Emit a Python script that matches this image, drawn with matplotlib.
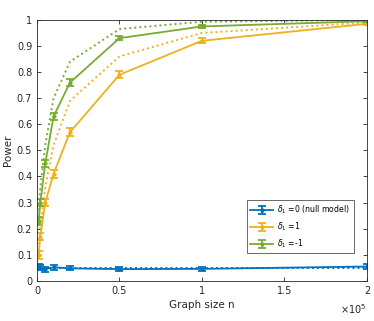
import matplotlib
matplotlib.use("Agg")
import matplotlib.pyplot as plt
import numpy as np

n = [1000, 2000, 5000, 10000, 20000, 50000, 100000, 200000]

null_power = [0.055, 0.05, 0.045, 0.052, 0.048, 0.045, 0.046, 0.055]
null_err = [0.01, 0.01, 0.01, 0.01, 0.008, 0.008, 0.008, 0.01]
null_theory = [0.05, 0.05, 0.05, 0.05, 0.05, 0.05, 0.05, 0.05]

pos_power = [0.10, 0.17, 0.30, 0.41, 0.57, 0.79, 0.92, 0.985]
pos_err = [0.015, 0.015, 0.015, 0.015, 0.015, 0.013, 0.01, 0.005]
pos_theory = [0.14, 0.21, 0.36, 0.52, 0.69, 0.86, 0.95, 0.99]

neg_power = [0.23, 0.30, 0.45, 0.63, 0.76, 0.93, 0.975, 0.995]
neg_err = [0.015, 0.015, 0.015, 0.015, 0.013, 0.008, 0.005, 0.003]
neg_theory = [0.27, 0.36, 0.52, 0.70, 0.84, 0.965, 0.993, 1.0]

labels = [r"$\delta_1$ =0 (null model)", r"$\delta_1$ =1", r"$\delta_1$ =-1"]
colors = ["#0072BD", "#EDB120", "#77AC30"]

fig = plt.figure(figsize=(3.74, 3.21), dpi=100)
ax = fig.add_axes([0.099, 0.125, 0.882, 0.813])

series = [(null_power, null_err, null_theory),
          (pos_power, pos_err, pos_theory),
          (neg_power, neg_err, neg_theory)]
handles = []
for (p, e, t), c, lab in zip(series, colors, labels):
    ax.plot(n, t, linestyle=(0, (1, 1.6)), color=c, lw=1.4)
    h = ax.errorbar(n, p, yerr=e, color=c, lw=1.3, marker='.', ms=4,
                    capsize=3, capthick=1.3, elinewidth=1.3, label=lab)
    handles.append(h)

ax.set_xlim(0, 200000)
ax.set_ylim(0, 1)
ax.set_xticks([0, 50000, 100000, 150000, 200000])
ax.set_xticklabels(["0", "0.5", "1", "1.5", "2"])
ax.set_yticks(np.arange(0, 1.01, 0.1))
ax.set_yticklabels(["0", "0.1", "0.2", "0.3", "0.4", "0.5", "0.6", "0.7", "0.8", "0.9", "1"])
ax.tick_params(direction='in', length=3, labelsize=7, colors='#262626', top=True, right=True,
               labelcolor='#262626', width=0.6)
for s in ax.spines.values():
    s.set_color('#262626')
    s.set_linewidth(0.6)
ax.set_xlabel("Graph size n", fontsize=7.5, color='#262626', labelpad=3)
ax.set_ylabel("Power", fontsize=7.5, color='#262626', labelpad=3)
ax.text(1.0, -0.08, r"$\times10^5$", transform=ax.transAxes, ha='right', va='top',
        fontsize=7, color='#262626')

leg = ax.legend(handles=handles, loc='lower right', bbox_to_anchor=(0.96, 0.105),
                fontsize=5.6, frameon=True, fancybox=False, edgecolor='#262626',
                handlelength=3, borderpad=0.45, labelspacing=0.55, handletextpad=0.5,
                borderaxespad=0)
leg.get_frame().set_linewidth(0.6)

fig.savefig("out.png", dpi=100)
